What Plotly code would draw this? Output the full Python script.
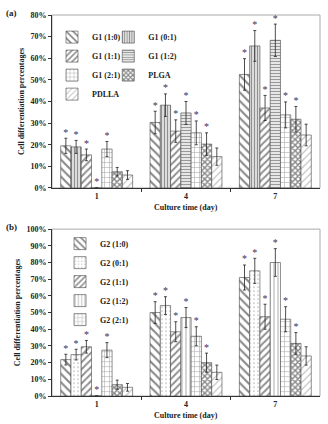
import plotly.graph_objects as go

days = ["1", "4", "7"]

names_a = ["G1 (1:0)", "G1 (0:1)", "G1 (1:1)", "G1 (1:2)", "G1 (2:1)", "PLGA", "PDLLA"]
vals_a = [
    [19.5, 30.3, 52.5],
    [19.0, 38.3, 65.7],
    [15.3, 26.3, 37.0],
    [0.0, 34.7, 68.3],
    [18.0, 25.5, 33.8],
    [7.5, 20.3, 31.8],
    [6.0, 14.5, 24.5],
]
err_a = [
    [3.5, 5.2, 7.3],
    [3.0, 5.2, 7.1],
    [2.7, 5.2, 5.8],
    [0.0, 5.3, 7.5],
    [3.5, 5.5, 6.0],
    [2.0, 5.2, 5.9],
    [2.0, 4.0, 5.0],
]
star_a = [
    ["*", "*", "*"],
    ["*", "*", "*"],
    ["*", "*", "*"],
    ["*", "*", "*"],
    ["*", "*", "*"],
    ["", "*", "*"],
    ["", "", ""],
]

names_b = ["G2 (1:0)", "G2 (0:1)", "G2 (1:1)", "G2 (1:2)", "G2 (2:1)", "PLGA", "PDLLA"]
vals_b = [
    [21.8, 50.0, 71.0],
    [24.8, 54.2, 75.0],
    [29.5, 38.5, 47.5],
    [0.0, 47.0, 80.0],
    [27.5, 35.8, 46.0],
    [6.8, 20.0, 31.5],
    [5.2, 14.2, 24.0],
]
err_b = [
    [3.2, 6.5, 7.5],
    [3.2, 5.3, 7.5],
    [3.8, 6.0, 7.5],
    [0.0, 6.0, 8.3],
    [4.5, 5.7, 7.5],
    [2.7, 5.7, 6.5],
    [2.3, 4.3, 5.5],
]
star_b = [
    ["*", "*", "*"],
    ["*", "*", "*"],
    ["*", "*", "*"],
    ["*", "*", "*"],
    ["*", "*", "*"],
    ["", "*", "*"],
    ["", "", ""],
]

pat_a = [
    dict(shape="\\", size=6, solidity=0.35, fgcolor="#111"),
    dict(shape="|", size=3, solidity=0.55, fgcolor="#222"),
    dict(shape="/", size=5, solidity=0.4, fgcolor="#222"),
    dict(shape="-", size=3, solidity=0.5, fgcolor="#333"),
    dict(shape="+", size=5, solidity=0.18, fgcolor="#333"),
    dict(shape="x", size=4, solidity=0.6, fgcolor="#111"),
    dict(shape="/", size=5, solidity=0.25, fgcolor="#888"),
]
pat_b = [
    dict(shape="\\", size=6, solidity=0.35, fgcolor="#111"),
    dict(shape=".", size=4, solidity=0.15, fgcolor="#777"),
    dict(shape="/", size=5, solidity=0.4, fgcolor="#222"),
    dict(shape="|", size=4, solidity=0.25, fgcolor="#555"),
    dict(shape="+", size=5, solidity=0.18, fgcolor="#333"),
    dict(shape="x", size=4, solidity=0.6, fgcolor="#111"),
    dict(shape="/", size=5, solidity=0.25, fgcolor="#888"),
]

FONT = "Liberation Serif"
W = 0.115
nb = 7
legend_a = ["legend", "legend3", "legend", "legend3", "legend", "legend3", "legend"]

fig = go.Figure()


def add_panel(names, vals, errs, stars, pats, xa, ya, legends, nleg):
    for i in range(nb):
        xs = [g + (i - (nb - 1) / 2) * W for g in range(len(days))]
        fig.add_trace(go.Bar(
            x=xs, y=vals[i], width=W, name="<b>" + names[i] + "</b>",
            xaxis=xa, yaxis=ya,
            marker=dict(color="white", line=dict(color="#444", width=0.6),
                        pattern=dict(bgcolor="white", **pats[i])),
            error_y=dict(type="data", array=errs[i], visible=True,
                         color="#222", thickness=0.8, width=1.5),
            showlegend=(i < nleg),
            legend=legends[i],
        ))
        tops = [v + e for v, e in zip(vals[i], errs[i])]
        fig.add_trace(go.Scatter(
            x=xs, y=tops, mode="text", text=stars[i],
            textposition="top center",
            textfont=dict(family=FONT, size=10, color="#3a3060"),
            xaxis=xa, yaxis=ya, showlegend=False, hoverinfo="skip",
        ))


add_panel(names_a, vals_a, err_a, star_a, pat_a, "x", "y", legend_a, 7)
add_panel(names_b, vals_b, err_b, star_b, pat_b, "x2", "y2", ["legend2"] * 7, 5)

tickfont = dict(family=FONT, size=8, color="#222")
xcommon = dict(
    range=[-0.5, 2.5], tickvals=[0, 1, 2], ticktext=["<b>%s</b>" % d for d in days],
    showline=True, linecolor="#333", linewidth=1, ticks="", tickfont=tickfont,
    showgrid=False, zeroline=False,
    minor=dict(tickvals=[0.5, 1.5], ticks="outside", ticklen=3, tickcolor="#333"),
)
ycommon = dict(
    showline=True, linecolor="#333", linewidth=1, ticks="outside", ticklen=3,
    tickcolor="#333", ticksuffix="%", tickfont=dict(family=FONT, size=8, color="#222", weight="bold"),
    showgrid=False, zeroline=False,
    title=dict(text="<b>Cell differentiation percentages</b>",
               font=dict(family=FONT, size=8, color="#222"), standoff=4),
)

legfont = dict(family=FONT, size=8, color="#222")
fig.update_layout(
    width=328, height=424,
    margin=dict(l=52, r=8, t=15, b=28),
    paper_bgcolor="white", plot_bgcolor="white",
    barmode="overlay",
    showlegend=True,
    xaxis=dict(domain=[0, 1], anchor="y", **xcommon),
    yaxis=dict(domain=[0.546, 1], range=[0, 80], dtick=10, anchor="x", **ycommon),
    xaxis2=dict(domain=[0, 1], anchor="y2", **xcommon),
    yaxis2=dict(domain=[0, 0.438], range=[0, 100], dtick=10, anchor="x2", **ycommon),
    legend=dict(x=0.0, y=0.98, xanchor="left", yanchor="top", font=legfont,
                bgcolor="rgba(0,0,0,0)", itemwidth=30, tracegroupgap=0),
    legend3=dict(x=0.21, y=0.98, xanchor="left", yanchor="top", font=legfont,
                 bgcolor="rgba(0,0,0,0)", itemwidth=30, tracegroupgap=0),
    legend2=dict(x=0.03, y=0.438, xanchor="left", yanchor="top", font=legfont,
                 bgcolor="rgba(0,0,0,0)", itemwidth=30, tracegroupgap=0),
    shapes=[
        dict(type="rect", xref="x domain", yref="y domain", x0=0, x1=1, y0=0, y1=1,
             line=dict(color="#aaa", width=1), layer="below"),
        dict(type="rect", xref="x2 domain", yref="y2 domain", x0=0, x1=1, y0=0, y1=1,
             line=dict(color="#aaa", width=1), layer="below"),
    ],
    annotations=[
        dict(text="<b>Culture time (day)</b>", xref="x domain", yref="y domain",
             x=0.5, y=0, yshift=-20, yanchor="middle", showarrow=False,
             font=dict(family=FONT, size=8, color="#222")),
        dict(text="<b>Culture time (day)</b>", xref="x2 domain", yref="y2 domain",
             x=0.5, y=0, yshift=-19, yanchor="middle", showarrow=False,
             font=dict(family=FONT, size=8, color="#222")),
        dict(text="<b>(a)</b>", xref="paper", yref="paper", x=-0.15, y=1.005,
             xanchor="center", yanchor="middle", showarrow=False,
             font=dict(family=FONT, size=9, color="#222")),
        dict(text="<b>(b)</b>", xref="paper", yref="paper", x=-0.15, y=0.443,
             xanchor="center", yanchor="middle", showarrow=False,
             font=dict(family=FONT, size=9, color="#222")),
    ],
)

fig.write_html("out.html")
